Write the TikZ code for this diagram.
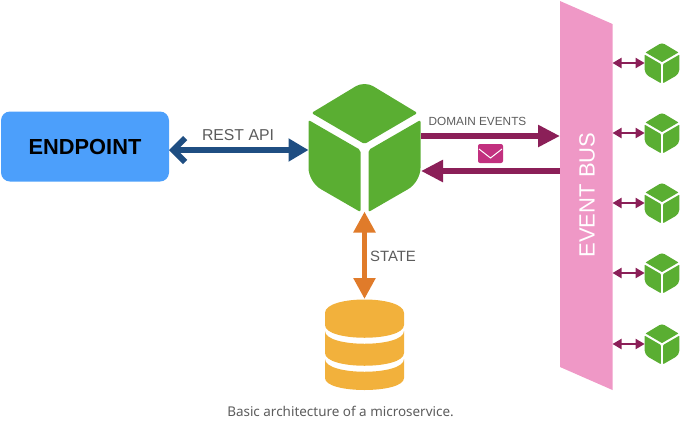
\documentclass[tikz,border=0pt]{standalone}
\usepackage{fontspec}
\setmainfont{Liberation Sans}
\newfontfamily\capfont{Noto Sans}
\usetikzlibrary{arrows, arrows.meta}
\definecolor{cubegreen}{HTML}{5AAE32}
\definecolor{buspink}{HTML}{EF98C6}
\definecolor{dbamber}{HTML}{F2B13C}
\definecolor{endblue}{HTML}{4C9FFB}
\definecolor{restnavy}{HTML}{1F4E82}
\definecolor{eventplum}{HTML}{8B1F58}
\definecolor{mailpink}{HTML}{C2307F}
\definecolor{stateorange}{HTML}{E07B2A}
\definecolor{labelgrey}{HTML}{5C5C5C}
\tikzset{
	anchorbox/.style={inner sep=0pt, outer sep=0pt},
	toplabel/.style={text=labelgrey, inner sep=0pt},
	busarrow/.style={draw=eventplum, line width=6pt},
	linkarrow/.style={draw=eventplum, line width=2pt, {Triangle[length=9pt,width=10pt]}-{Triangle[length=9pt,width=10pt]}},
}
% name, centre, scale
\newcommand{\cubeat}[3]{
	\node[anchorbox, minimum width=#3*112pt, minimum height=#3*129pt] (#1) at (#2) {};
	\begin{scope}[shift={(#2)}, scale=#3]
		\fill[cubegreen, rounded corners=#3*1.5pt] (-53,-34) [rounded corners=#3*10pt] -- (0,-66) [rounded corners=#3*1.5pt] -- (53,-34) -- (0,-3) -- cycle;
		\fill[cubegreen, rounded corners=#3*1.5pt] (-56,-27) [rounded corners=#3*14pt] -- (-56,35) [rounded corners=#3*2pt] -- (-4,65) -- (-4,3) -- cycle;
		\fill[cubegreen, rounded corners=#3*1.5pt] (56,-27) [rounded corners=#3*14pt] -- (56,35) [rounded corners=#3*2pt] -- (4,65) -- (4,3) -- cycle;
	\end{scope}
}

\begin{document}
\begin{tikzpicture}[x=1pt, y=-1pt]
	\useasboundingbox (0,0) rectangle (680,421);
	
	\node[anchorbox, fill=endblue, rounded corners=9pt, minimum width=168pt, minimum height=70pt, font=\fontsize{21.8}{22}\selectfont\bfseries] (endpoint) at (85,146.5) {ENDPOINT};
	
	\cubeat{core}{364.5,147}{1}
	\cubeat{cubeA}{662,63}{0.31}
	\cubeat{cubeB}{662,133}{0.31}
	\cubeat{cubeC}{662,203}{0.31}
	\cubeat{cubeD}{662,273}{0.31}
	\cubeat{cubeE}{662,344}{0.31}
	
	% event bus
	\fill[buspink] (560,1) -- (612.5,24) -- (612.5,390) -- (560,367) -- cycle;
	\node[anchorbox, minimum width=52.5pt, minimum height=389pt] (bus) at (586.25,195.5) {};
	\node[anchorbox, text=white, rotate=90, font=\fontsize{22}{22}\selectfont] (bustext) at (587,195) {EVENT BUS};
	
	% database
	\node[anchorbox, minimum width=79pt, minimum height=91pt] (db) at (364.5,344.5) {};
	\fill[dbamber] (325,313) .. controls (325,295) and (404,295) .. (404,313) -- (404,325) .. controls (404,342) and (325,342) .. (325,325) -- cycle;
	\fill[dbamber] (325,331) .. controls (325,348) and (404,348) .. (404,331) -- (404,353) .. controls (404,370) and (325,370) .. (325,353) -- cycle;
	\fill[dbamber] (325,359) .. controls (325,376) and (404,376) .. (404,359) -- (404,378) .. controls (404,394) and (325,394) .. (325,378) -- cycle;
	
	% envelope
	\node[anchorbox, fill=mailpink, rounded corners=2pt, minimum width=25pt, minimum height=19pt] (mail) at (490.5,153.5) {};
	\coordinate (mailL) at (479,149);
	\coordinate (mailM) at (490.5,158);
	\coordinate (mailR) at (502,149);
	\draw[white, line width=1pt] (mailL) -- (mailM) -- (mailR);
	
	\node[toplabel, font=\fontsize{15.8}{16}\selectfont] (restlabel) at (238,135) {REST API};
	\node[toplabel, font=\fontsize{11.8}{12}\selectfont] (domainlabel) at (477.5,121) {DOMAIN EVENTS};
	\node[toplabel, font=\fontsize{14.9}{15}\selectfont] (statelabel) at (393,256) {STATE};
	\node[toplabel, font=\capfont\fontsize{13.45}{14}\selectfont] (caption) at (340.5,411) {Basic architecture of a microservice.};
	
	\coordinate (domainout) at (421,136);
	\coordinate (domainin) at (421,171);
	
	\draw[draw=restnavy, line width=6pt, {Straight Barb[length=12pt,width=24pt]}-{Triangle[length=20pt,width=22pt]}] ([yshift=-3.5pt]endpoint.east) -- ([yshift=-3pt]core.west);
	\draw[busarrow, -{Triangle[length=22pt,width=21pt]}] (domainout) -- (domainout -| bus.west);
	\draw[busarrow, {Triangle[length=22pt,width=21pt]}-] (domainin) -- (domainin -| bus.west);
	\draw[draw=stateorange, line width=5.5pt, {Triangle[length=21pt,width=21pt]}-{Triangle[length=21pt,width=21pt]}] (core.south) -- (db.north);
	
	\draw[linkarrow] (bus.east |- cubeA.west) -- (cubeA.west);
	\draw[linkarrow] (bus.east |- cubeB.west) -- (cubeB.west);
	\draw[linkarrow] (bus.east |- cubeC.west) -- (cubeC.west);
	\draw[linkarrow] (bus.east |- cubeD.west) -- (cubeD.west);
	\draw[linkarrow] (bus.east |- cubeE.west) -- (cubeE.west);
\end{tikzpicture}
\end{document}
